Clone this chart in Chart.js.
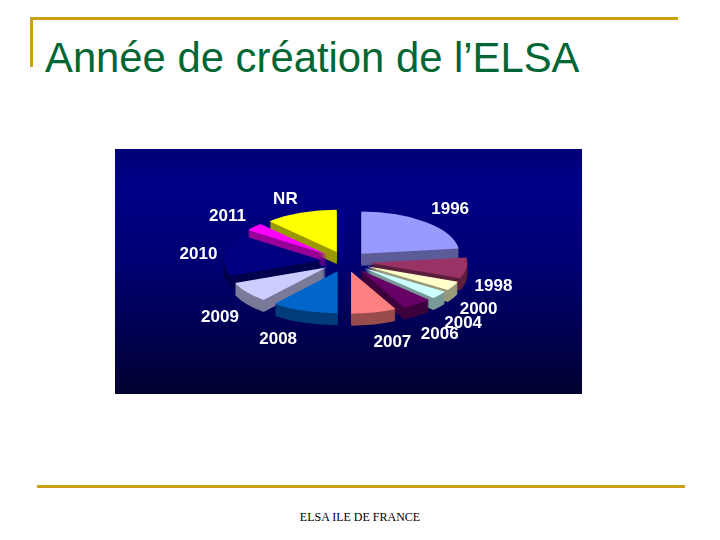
<!DOCTYPE html>
<html lang="fr">
<head>
<meta charset="utf-8">
<title>Année de création de l'ELSA</title>
<script src="https://cdn.jsdelivr.net/npm/chart.js@4/dist/chart.umd.js"></script>
<style>
  html, body { margin: 0; background: #fff; }
  #slide { position: relative; width: 720px; height: 540px; overflow: hidden; }
  .rule { position: absolute; background: #c9a016; }
  h1 { position: absolute; left: 45px; top: 34px; margin: 0; color: #006633; white-space: nowrap;
       font: normal 41.8px "Liberation Sans", Arial, sans-serif; }
  #panel { position: absolute; left: 115px; top: 149px; width: 467px; height: 245px;
           background: linear-gradient(#000078 0%, #000088 15%, #000070 50%, #000030 100%); }
  #footer { position: absolute; left: 0; width: 720px; top: 510px; text-align: center; color: #000;
            font: 12px "Liberation Serif", "Times New Roman", serif; }
</style>
</head>
<body>
<div id="slide">
  <div class="rule" style="left:30px;top:17px;width:648px;height:3px"></div>
  <div class="rule" style="left:30px;top:17px;width:3px;height:50px"></div>
  <div class="rule" style="left:37px;top:485px;width:648px;height:3px"></div>
  <h1>Année de création de l’ELSA</h1>
  <div id="panel"><canvas id="pie" width="467" height="245"></canvas></div>
  <div id="footer">ELSA ILE DE FRANCE</div>
</div>
<script>
const years = ["1996", "1998", "2000", "2004", "2006", "2007", "2008", "2009", "2010", "2011", "NR"];
const shares = [23, 8, 3.5, 3, 5, 7.5, 11, 8, 16, 3, 12];
const topColors = ["#9999ff", "#993366", "#ffffcc", "#ccffff", "#660066", "#ff8080", "#0066cc", "#ccccff", "#000080", "#ff00ff", "#ffff00"];
const sideColors = ["#5c5c99", "#5c1f3d", "#99997a", "#7a9999", "#3d003d", "#994d4d", "#003d7a", "#7a7a99", "#00004d", "#990099", "#999900"];

// nudges for the labels, some of them overlap in the original
const labelNudge = [[20, -11], [21, 18], [20, 22], [19, 27], [19, 28], [17, 27], [-24, 26], [-22, 23], [-20, 0], [-22, -9], [-13, -11]];

const squash = 0.43;
const depth = 12;
const explode = 24;

// tilts the flat pie and stacks darker copies underneath to get the 3D look
const tiltedPie = {
    id: "tiltedPie",
    beforeDatasetDraw(chart, args) {
        const ctx = chart.ctx;
        const arcs = args.meta.data;
        const cx = arcs[0].x, cy = arcs[0].y;
        for (let d = depth; d >= 0; d--) {
            ctx.save();
            ctx.translate(cx, cy + d);
            ctx.scale(1, squash);
            ctx.translate(-cx, -cy);
            arcs.forEach((arc, i) => {
                const mid = (arc.startAngle + arc.endAngle) / 2;
                const original = arc.options;
                arc.options = Object.assign({}, original, { backgroundColor: d === 0 ? topColors[i] : sideColors[i] });
                ctx.save();
                ctx.translate(Math.cos(mid) * explode, Math.sin(mid) * explode);
                arc.draw(ctx);
                ctx.restore();
                arc.options = original;
            });
            ctx.restore();
        }
        return false;
    },
    afterDatasetsDraw(chart) {
        const ctx = chart.ctx;
        const arcs = chart.getDatasetMeta(0).data;
        ctx.save();
        ctx.font = "bold 17px 'Liberation Sans', Arial, sans-serif";
        ctx.textAlign = "center";
        ctx.textBaseline = "middle";
        ctx.fillStyle = "#ffffff";
        arcs.forEach((arc, i) => {
            const mid = (arc.startAngle + arc.endAngle) / 2;
            const r = arc.outerRadius + 30;
            const x = arc.x + Math.cos(mid) * r + labelNudge[i][0];
            const y = arc.y + Math.sin(mid) * r * squash + labelNudge[i][1];
            ctx.fillText(years[i], x, y);
        });
        ctx.restore();
    }
};

new Chart(document.getElementById("pie"), {
    type: "pie",
    data: {
        labels: years,
        datasets: [{
            data: shares,
            backgroundColor: topColors,
            borderWidth: 0,
            radius: 98
        }]
    },
    options: {
        responsive: false,
        animation: false,
        layout: { padding: { bottom: 20, right: 6 } },
        plugins: { legend: { display: false }, tooltip: { enabled: false } }
    },
    plugins: [tiltedPie]
});
</script>
</body>
</html>
